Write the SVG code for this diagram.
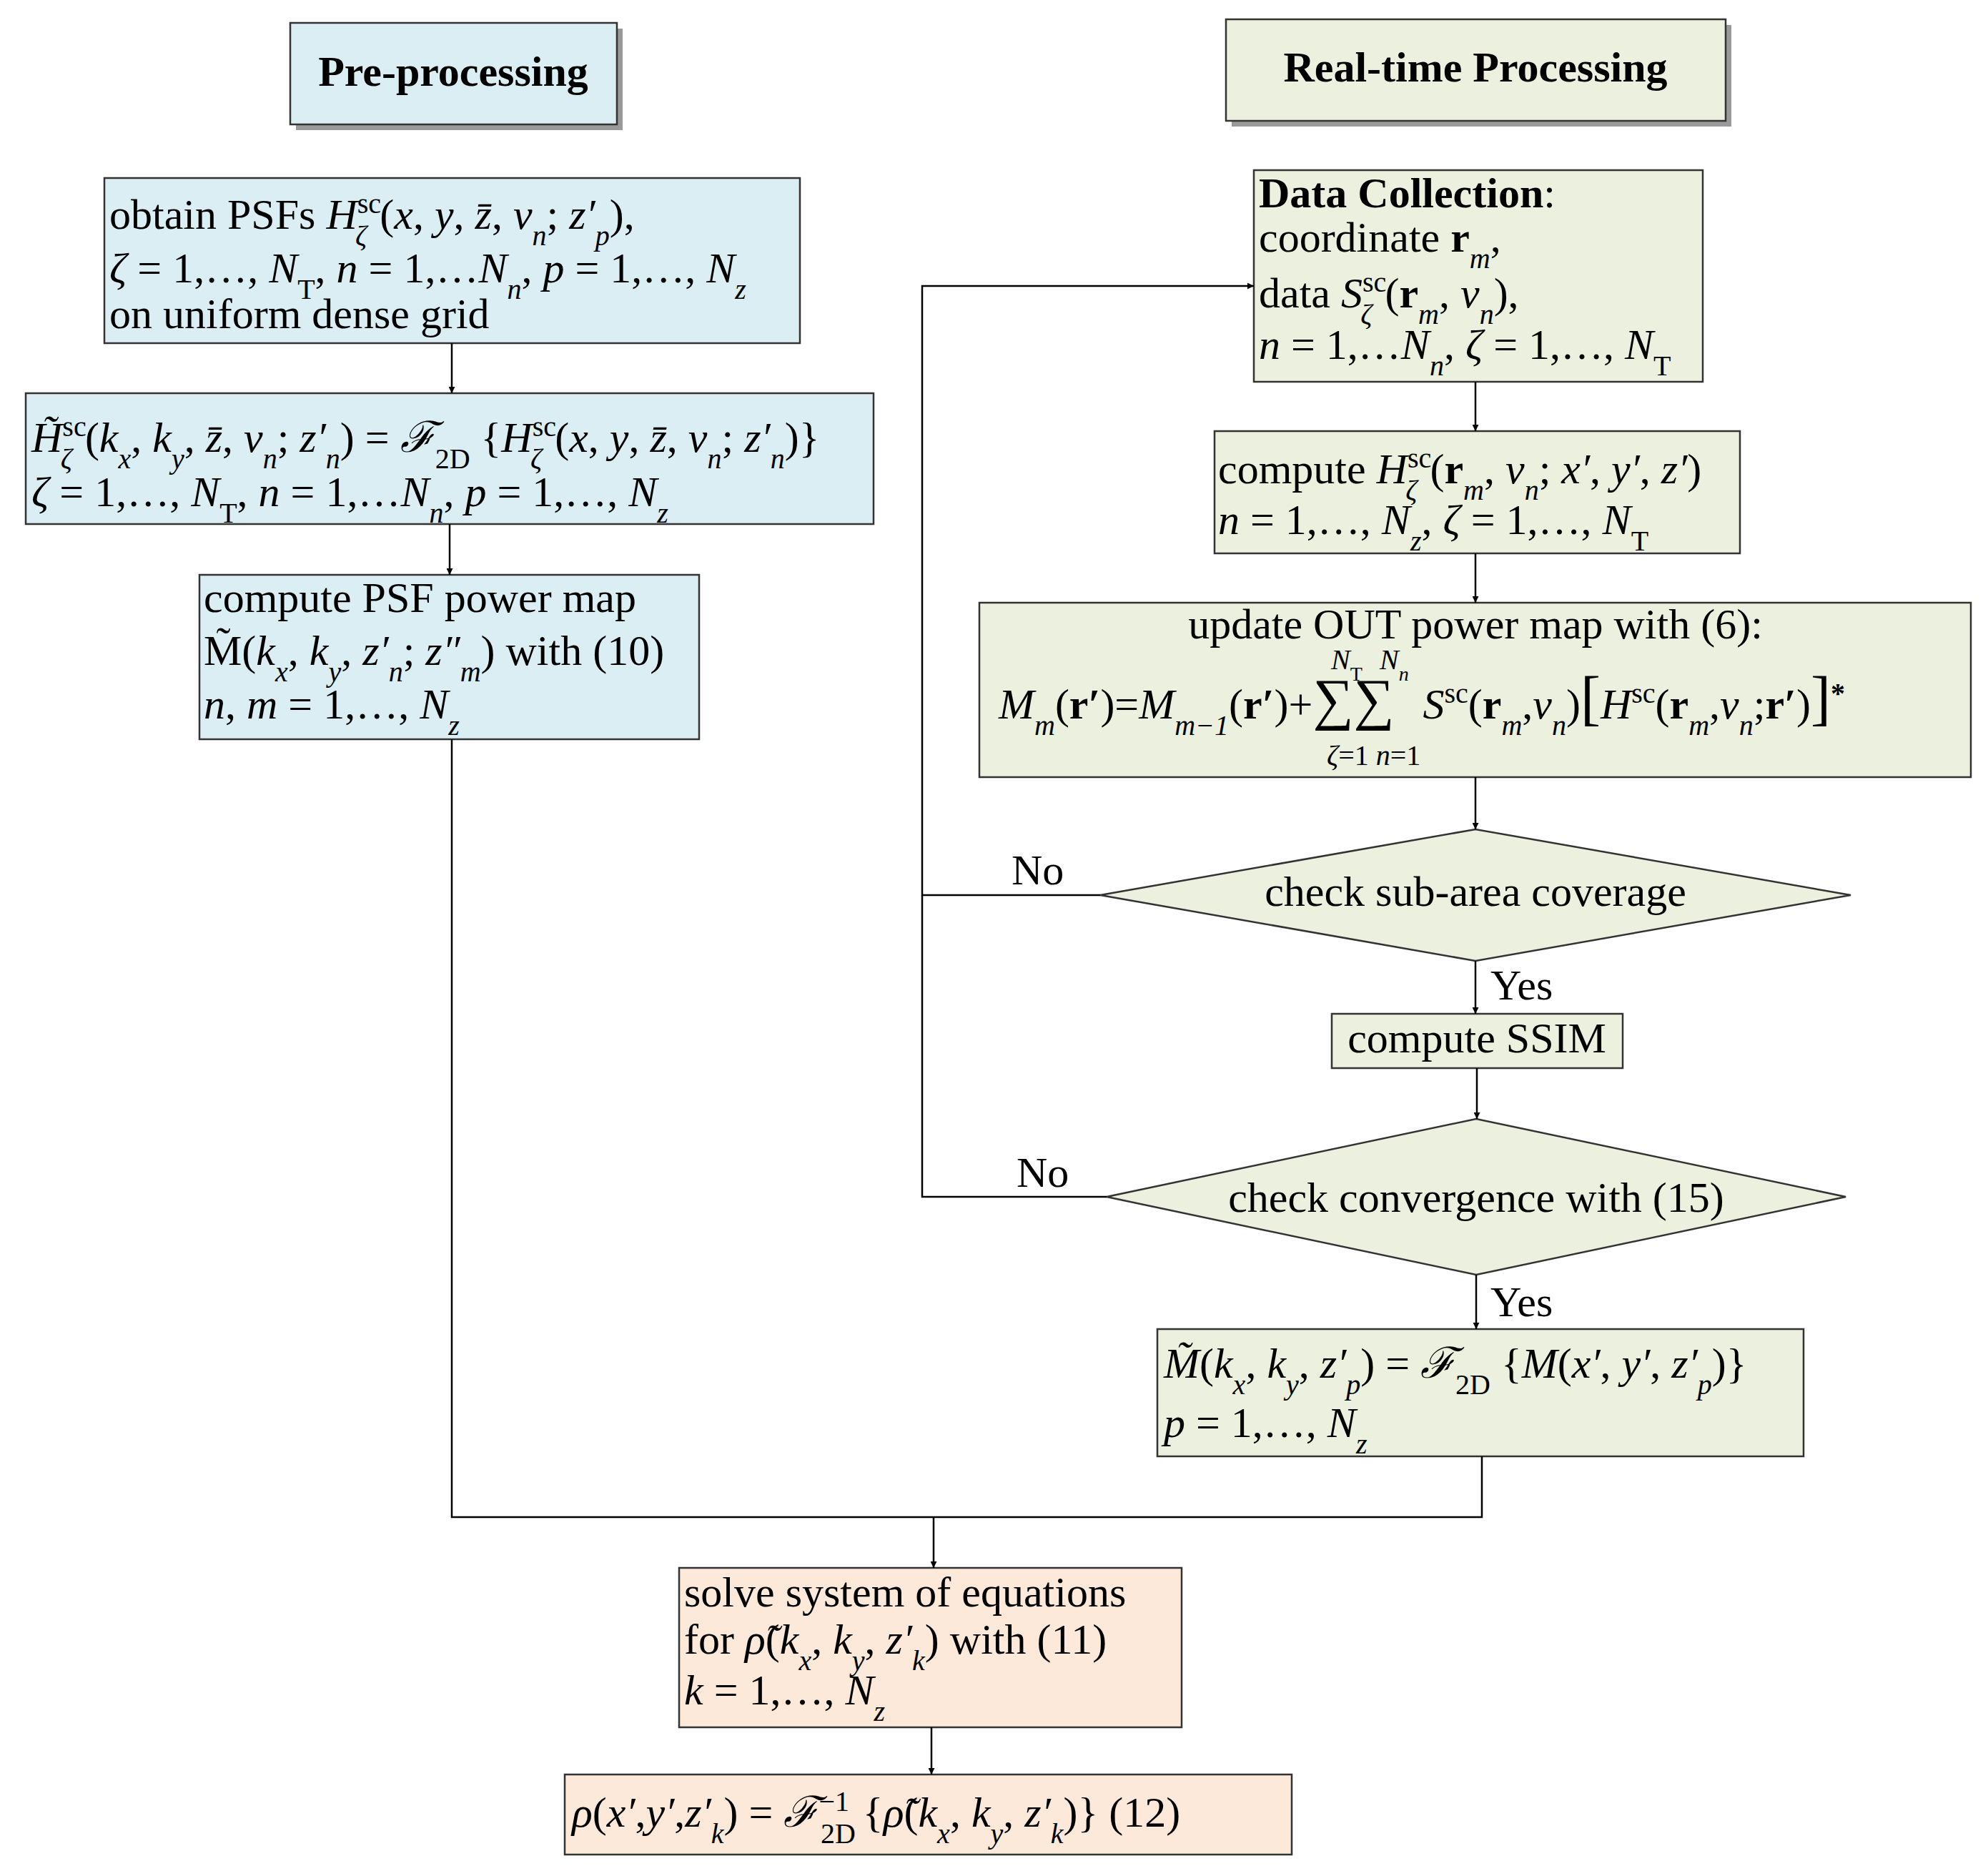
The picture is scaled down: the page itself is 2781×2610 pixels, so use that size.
<svg xmlns="http://www.w3.org/2000/svg" width="2781" height="2610" viewBox="0 0 2781 2610">
<style>
text{font-family:"Liberation Serif","Times New Roman",serif;font-size:60px;fill:#000}
.b{font-weight:bold}
.i{font-style:italic}
.s{font-size:40px}
.blue{fill:#dbeef4;stroke:#333;stroke-width:2.5}
.green{fill:#ebf1de;stroke:#333;stroke-width:2.5}
.orange{fill:#fde9d9;stroke:#333;stroke-width:2.5}
.ln{fill:none;stroke:#000;stroke-width:2.5}
.sh{fill:#999}
</style>
<defs>
<marker id="a" viewBox="0 0 10 10" refX="10" refY="5" markerWidth="9" markerHeight="9" markerUnits="userSpaceOnUse" orient="auto"><path d="M0,0L10,5L0,10z" fill="#000"/></marker>
</defs>
<rect width="2781" height="2610" fill="#fff"/>
<g id="title-pre"><rect class="sh" x="414" y="40" width="457" height="142"/><rect class="blue" x="406" y="32" width="457" height="142"/><text class="b" x="634" y="120" text-anchor="middle">Pre-processing</text></g>
<g id="title-rt"><rect class="sh" x="1723" y="35" width="699" height="142"/><rect class="green" x="1715" y="27" width="699" height="142"/><text class="b" x="2064" y="114" text-anchor="middle">Real-time Processing</text></g>
<g id="box1"><rect class="blue" x="146" y="249" width="973" height="231"/>
<text x="153" y="320">obtain PSFs <tspan class="i">H</tspan><tspan class="s" baseline-shift="super">sc</tspan><tspan class="s i" dx="-36" baseline-shift="sub">ζ</tspan><tspan dx="18">(</tspan><tspan class="i">x</tspan>, <tspan class="i">y</tspan>, <tspan class="i">z̄</tspan>, <tspan class="i">ν</tspan><tspan class="s i" baseline-shift="sub">n</tspan>; <tspan class="i">z′</tspan><tspan class="s i" baseline-shift="sub">p</tspan>),</text>
<text x="153" y="395"><tspan class="i">ζ</tspan> = 1,…, <tspan class="i">N</tspan><tspan class="s" baseline-shift="sub">T</tspan>, <tspan class="i">n</tspan> = 1,…<tspan class="i">N</tspan><tspan class="s i" baseline-shift="sub">n</tspan>,  <tspan class="i">p</tspan> = 1,…, <tspan class="i">N</tspan><tspan class="s i" baseline-shift="sub">z</tspan></text>
<text x="153" y="459">on uniform dense grid</text></g>
<g id="box2"><rect class="blue" x="36" y="550" width="1186" height="183"/>
<text x="44" y="632"><tspan class="i">H̃</tspan><tspan class="s" baseline-shift="super">sc</tspan><tspan class="s i" dx="-36" baseline-shift="sub">ζ</tspan><tspan dx="18">(</tspan><tspan class="i">k</tspan><tspan class="s i" baseline-shift="sub">x</tspan>, <tspan class="i">k</tspan><tspan class="s i" baseline-shift="sub">y</tspan>, <tspan class="i">z̄</tspan>, <tspan class="i">ν</tspan><tspan class="s i" baseline-shift="sub">n</tspan>; <tspan class="i">z′</tspan><tspan class="s i" baseline-shift="sub">n</tspan>) = <tspan class="i">ℱ</tspan><tspan class="s" baseline-shift="sub">2D</tspan> {<tspan class="i">H</tspan><tspan class="s" baseline-shift="super">sc</tspan><tspan class="s i" dx="-36" baseline-shift="sub">ζ</tspan><tspan dx="18">(</tspan><tspan class="i">x</tspan>, <tspan class="i">y</tspan>, <tspan class="i">z̄</tspan>, <tspan class="i">ν</tspan><tspan class="s i" baseline-shift="sub">n</tspan>; <tspan class="i">z′</tspan><tspan class="s i" baseline-shift="sub">n</tspan>)}</text>
<text x="44" y="708"><tspan class="i">ζ</tspan> = 1,…, <tspan class="i">N</tspan><tspan class="s" baseline-shift="sub">T</tspan>, <tspan class="i">n</tspan> = 1,…<tspan class="i">N</tspan><tspan class="s i" baseline-shift="sub">n</tspan>,  <tspan class="i">p</tspan> = 1,…, <tspan class="i">N</tspan><tspan class="s i" baseline-shift="sub">z</tspan></text></g>
<g id="box3"><rect class="blue" x="279" y="804" width="699" height="230"/>
<text x="285" y="856">compute PSF power map</text>
<text x="285" y="930">M̃(<tspan class="i">k</tspan><tspan class="s i" baseline-shift="sub">x</tspan>, <tspan class="i">k</tspan><tspan class="s i" baseline-shift="sub">y</tspan>, <tspan class="i">z′</tspan><tspan class="s i" baseline-shift="sub">n</tspan>; <tspan class="i">z″</tspan><tspan class="s i" baseline-shift="sub">m</tspan>) with (10)</text>
<text x="285" y="1005"><tspan class="i">n</tspan>, <tspan class="i">m</tspan> = 1,…, <tspan class="i">N</tspan><tspan class="s i" baseline-shift="sub">z</tspan></text></g>
<g id="datacol"><rect class="green" x="1754" y="238" width="628" height="296"/>
<text x="1761" y="290"><tspan class="b">Data Collection</tspan>:</text>
<text x="1761" y="352">coordinate <tspan class="b">r</tspan><tspan class="s i" baseline-shift="sub">m</tspan>,</text>
<text x="1761" y="430">data <tspan class="i">S</tspan><tspan class="s" baseline-shift="super">sc</tspan><tspan class="s i" dx="-36" baseline-shift="sub">ζ</tspan><tspan dx="18">(</tspan><tspan class="b">r</tspan><tspan class="s i" baseline-shift="sub">m</tspan>, <tspan class="i">ν</tspan><tspan class="s i" baseline-shift="sub">n</tspan>),</text>
<text x="1761" y="502"><tspan class="i">n</tspan> = 1,…<tspan class="i">N</tspan><tspan class="s i" baseline-shift="sub">n</tspan>, <tspan class="i">ζ</tspan> = 1,…, <tspan class="i">N</tspan><tspan class="s" baseline-shift="sub">T</tspan></text></g>
<g id="computeH"><rect class="green" x="1699" y="603" width="735" height="171"/>
<text x="1704" y="676">compute <tspan class="i">H</tspan><tspan class="s" baseline-shift="super">sc</tspan><tspan class="s i" dx="-36" baseline-shift="sub">ζ</tspan><tspan dx="18">(</tspan><tspan class="b">r</tspan><tspan class="s i" baseline-shift="sub">m</tspan>, <tspan class="i">ν</tspan><tspan class="s i" baseline-shift="sub">n</tspan>; <tspan class="i">x′</tspan>, <tspan class="i">y′</tspan>, <tspan class="i">z′</tspan>)</text>
<text x="1704" y="747"><tspan class="i">n</tspan> = 1,…, <tspan class="i">N</tspan><tspan class="s i" baseline-shift="sub">z</tspan>, <tspan class="i">ζ</tspan> = 1,…, <tspan class="i">N</tspan><tspan class="s" baseline-shift="sub">T</tspan></text></g>
<g id="update"><rect class="green" x="1370" y="843" width="1387" height="244"/>
<text x="2064" y="893" text-anchor="middle">update OUT power map with (6):</text>
<text x="1397" y="1005"><tspan class="i">M</tspan><tspan class="s i" baseline-shift="sub">m</tspan>(<tspan class="b">r′</tspan>)=<tspan class="i">M</tspan><tspan class="s i" baseline-shift="sub">m−1</tspan>(<tspan class="b">r′</tspan>)+<tspan font-size="80">∑∑</tspan><tspan class="i" dx="40">S</tspan><tspan class="s" baseline-shift="super">sc</tspan>(<tspan class="b">r</tspan><tspan class="s i" baseline-shift="sub">m</tspan>,<tspan class="i">ν</tspan><tspan class="s i" baseline-shift="sub">n</tspan>)<tspan font-size="84">[</tspan><tspan class="i">H</tspan><tspan class="s" baseline-shift="super">sc</tspan>(<tspan class="b">r</tspan><tspan class="s i" baseline-shift="sub">m</tspan>,<tspan class="i">ν</tspan><tspan class="s i" baseline-shift="sub">n</tspan>;<tspan class="b">r′</tspan>)<tspan font-size="84">]</tspan><tspan class="s b" baseline-shift="super">*</tspan></text>
<text class="s" x="1862" y="936"><tspan class="i">N</tspan><tspan font-size="28" baseline-shift="sub">T</tspan></text>
<text class="s" x="1930" y="936"><tspan class="i">N</tspan><tspan class="i" font-size="28" baseline-shift="sub">n</tspan></text>
<text class="s" x="1856" y="1070"><tspan class="i">ζ</tspan>=1 <tspan class="i">n</tspan>=1</text></g>
<g id="check1"><polygon class="green" points="1539,1252 2064,1160 2589,1252 2064,1344"/><text x="2064" y="1267" text-anchor="middle">check sub-area coverage</text></g>
<g id="ssim"><rect class="green" x="1863" y="1418" width="407" height="76"/><text x="2066" y="1472" text-anchor="middle">compute SSIM</text></g>
<g id="check2"><polygon class="green" points="1548,1674 2065,1565 2582,1674 2065,1783"/><text x="2065" y="1695" text-anchor="middle">check convergence with (15)</text></g>
<g id="mtilde"><rect class="green" x="1619" y="1859" width="904" height="178"/>
<text x="1628" y="1927"><tspan class="i">M̃</tspan>(<tspan class="i">k</tspan><tspan class="s i" baseline-shift="sub">x</tspan>, <tspan class="i">k</tspan><tspan class="s i" baseline-shift="sub">y</tspan>, <tspan class="i">z′</tspan><tspan class="s i" baseline-shift="sub">p</tspan>) = <tspan class="i">ℱ</tspan><tspan class="s" baseline-shift="sub">2D</tspan> {<tspan class="i">M</tspan>(<tspan class="i">x′</tspan>, <tspan class="i">y′</tspan>, <tspan class="i">z′</tspan><tspan class="s i" baseline-shift="sub">p</tspan>)}</text>
<text x="1628" y="2010"><tspan class="i">p</tspan> = 1,…, <tspan class="i">N</tspan><tspan class="s i" baseline-shift="sub">z</tspan></text></g>
<g id="solve"><rect class="orange" x="950" y="2193" width="703" height="223"/>
<text x="957" y="2247">solve system of equations</text>
<text x="957" y="2313">for <tspan class="i">ρ̃</tspan>(<tspan class="i">k</tspan><tspan class="s i" baseline-shift="sub">x</tspan>, <tspan class="i">k</tspan><tspan class="s i" baseline-shift="sub">y</tspan>, <tspan class="i">z′</tspan><tspan class="s i" baseline-shift="sub">k</tspan>) with (11)</text>
<text x="957" y="2384"><tspan class="i">k</tspan> = 1,…, <tspan class="i">N</tspan><tspan class="s i" baseline-shift="sub">z</tspan></text></g>
<g id="rho"><rect class="orange" x="790" y="2482" width="1017" height="112"/>
<text x="800" y="2555"><tspan class="i">ρ</tspan>(<tspan class="i">x′</tspan>,<tspan class="i">y′</tspan>,<tspan class="i">z′</tspan><tspan class="s i" baseline-shift="sub">k</tspan>) = <tspan class="i">ℱ</tspan><tspan class="s" baseline-shift="super">−1</tspan><tspan class="s" dx="-40" baseline-shift="sub">2D</tspan><tspan dx="10">{</tspan><tspan class="i">ρ̃</tspan>(<tspan class="i">k</tspan><tspan class="s i" baseline-shift="sub">x</tspan>, <tspan class="i">k</tspan><tspan class="s i" baseline-shift="sub">y</tspan>, <tspan class="i">z′</tspan><tspan class="s i" baseline-shift="sub">k</tspan>)}   (12)</text></g>
<g id="connectors">
<path class="ln" d="M632,480V550" marker-end="url(#a)"/>
<path class="ln" d="M629,733V804" marker-end="url(#a)"/>
<path class="ln" d="M2064,534V603" marker-end="url(#a)"/>
<path class="ln" d="M2064,774V843" marker-end="url(#a)"/>
<path class="ln" d="M2064,1087V1160" marker-end="url(#a)"/>
<path class="ln" d="M2064,1344V1418" marker-end="url(#a)"/>
<path class="ln" d="M2066,1494V1565" marker-end="url(#a)"/>
<path class="ln" d="M2065,1783V1859" marker-end="url(#a)"/>
<path class="ln" d="M1539,1252H1290V400H1754" marker-end="url(#a)"/>
<path class="ln" d="M1548,1674H1290V1252"/>
<path class="ln" d="M632,1034V2122H2073V2037"/>
<path class="ln" d="M1306,2122V2193" marker-end="url(#a)"/>
<path class="ln" d="M1303,2416V2482" marker-end="url(#a)"/>
<text x="1415" y="1237">No</text>
<text x="1422" y="1660">No</text>
<text x="2085" y="1398">Yes</text>
<text x="2085" y="1841">Yes</text>
</g>
</svg>
